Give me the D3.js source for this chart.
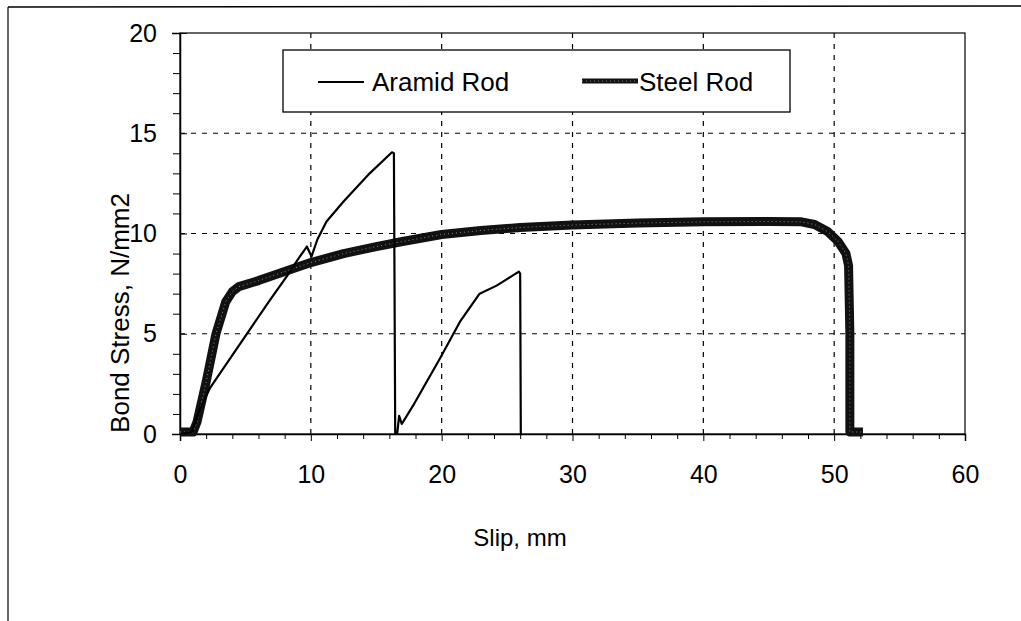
<!DOCTYPE html>
<html><head><meta charset="utf-8">
<script src="https://cdn.jsdelivr.net/npm/d3@7"></script>
<style>
html,body{margin:0;padding:0;background:#fff;}
svg{display:block;font-family:"Liberation Sans",Arial,sans-serif;}
</style></head>
<body><svg id="chart" width="1021" height="621"></svg>
<script>
// ---- data ----
const xTicks = [0, 10, 20, 30, 40, 50, 60];
const yTicks = [0, 5, 10, 15, 20];
const seriesNames = ["Aramid Rod", "Steel Rod"];
const aramidSlip = [0, 0.9, 1.5, 2.3, 4.8, 6.9, 8.2, 9.0, 9.7, 10.05, 10.5, 11.2, 12.5, 14.5, 16.2, 16.35, 16.45, 16.6, 16.75, 16.95, 17.8, 19.9, 21.4, 22.9, 24.2, 25.9, 26.0, 26.05];
const aramidStress = [0, 0.1, 1.2, 2.3, 4.7, 6.7, 7.9, 8.7, 9.35, 8.85, 9.7, 10.6, 11.6, 13.0, 14.05, 14.0, 0.0, 0.0, 0.9, 0.5, 1.4, 3.8, 5.6, 7.0, 7.4, 8.1, 8.0, 0.0];
const steelSlip = [0, 1.0, 1.3, 2.0, 2.75, 3.5, 4.0, 4.5, 6, 8, 10, 12.5, 15, 17, 20, 23, 26, 30, 35, 40, 45, 47.5, 48.5, 49.5, 50.3, 50.9, 51.1, 51.2, 51.2, 52.2];
const steelStress = [0.1, 0.1, 0.6, 2.6, 5.0, 6.6, 7.1, 7.35, 7.65, 8.1, 8.55, 9.0, 9.35, 9.6, 9.95, 10.15, 10.3, 10.42, 10.52, 10.58, 10.6, 10.58, 10.45, 10.1, 9.6, 9.0, 8.4, 5.0, 0.1, 0.1];

// ---- layout ----
const svg = d3.select("#chart");
const L = 180, R = 965, T = 33, B = 434;
const x = d3.scaleLinear().domain([0, 60]).range([L, R]);
const y = d3.scaleLinear().domain([0, 20]).range([B, T]);
const FONT = "Liberation Sans, Arial, sans-serif";

// outer frame (partial, as scanned)
svg.append("line").attr("x1", 8).attr("y1", 7).attr("x2", 1021).attr("y2", 6).attr("stroke", "#000").attr("stroke-width", 1.5);
svg.append("line").attr("x1", 8).attr("y1", 7).attr("x2", 8).attr("y2", 621).attr("stroke", "#000").attr("stroke-width", 1.2);

// gridlines
const g = svg.append("g");
g.selectAll(".hg").data(yTicks.filter(d => d > 0 && d < 20)).join("line")
  .attr("x1", L).attr("x2", R).attr("y1", d => y(d)).attr("y2", d => y(d))
  .attr("stroke", "#000").attr("stroke-width", 1.2).attr("stroke-dasharray", "5,6");
g.selectAll(".vg").data(xTicks.filter(d => d > 0 && d < 60)).join("line")
  .attr("x1", d => x(d)).attr("x2", d => x(d)).attr("y1", T).attr("y2", B)
  .attr("stroke", "#000").attr("stroke-width", 1.2).attr("stroke-dasharray", "5,6");

// plot border
svg.append("rect").attr("x", L).attr("y", T).attr("width", R - L).attr("height", B - T)
  .attr("fill", "none").attr("stroke", "#000").attr("stroke-width", 1.2);

// y axis
const yAxis = svg.append("g").attr("transform", `translate(${L},0)`)
  .call(d3.axisLeft(y).tickValues(yTicks).tickSize(8).tickPadding(15).tickFormat(d3.format("d")));
yAxis.select(".domain").attr("stroke-width", 1.5);
yAxis.selectAll(".tick line").attr("x2", 7);
yAxis.selectAll("text").attr("font-size", 25).attr("font-family", FONT).attr("fill", "#000");
svg.append("g").attr("transform", `translate(${L},0)`)
  .call(d3.axisLeft(y).tickValues(d3.range(0, 21, 1).filter(d => d % 5 !== 0)).tickSize(7).tickFormat(""))
  .select(".domain").remove();

// x axis
const xAxis = svg.append("g").attr("transform", `translate(0,${B})`)
  .call(d3.axisBottom(x).tickValues(xTicks).tickSize(7).tickPadding(24).tickFormat(d3.format("d")));
xAxis.select(".domain").attr("stroke-width", 1.5);
xAxis.selectAll("text").attr("font-size", 25).attr("font-family", FONT).attr("fill", "#000");
svg.append("g").attr("transform", `translate(0,${B})`)
  .call(d3.axisBottom(x).tickValues(d3.range(0, 61, 2).filter(d => d % 10 !== 0)).tickSize(5).tickFormat(""))
  .select(".domain").remove();

// axis titles
svg.append("text").attr("x", 520).attr("y", 546).attr("text-anchor", "middle")
  .attr("font-size", 24).text("Slip, mm");
svg.append("text").attr("transform", `translate(129,313) rotate(-90)`).attr("text-anchor", "middle")
  .attr("font-size", 26).text("Bond Stress, N/mm2");

// series
const line = d3.line().x(d => x(d[0])).y(d => y(d[1]));
const steelData = steelSlip.map((s, i) => [s, steelStress[i]]);
const aramidData = aramidSlip.map((s, i) => [s, aramidStress[i]]);

svg.append("path").datum(steelData).attr("d", line).attr("fill", "none")
  .attr("stroke", "#111").attr("stroke-width", 9).attr("stroke-linejoin", "round");
svg.append("path").datum(steelData).attr("d", line).attr("fill", "none")
  .attr("stroke", "#fff").attr("stroke-opacity", 0.5).attr("stroke-width", 1).attr("stroke-dasharray", "1,3");

svg.append("path").datum(aramidData).attr("d", line).attr("fill", "none")
  .attr("stroke", "#000").attr("stroke-width", 2.2).attr("stroke-linejoin", "round");

// legend
const lg = svg.append("g");
lg.append("rect").attr("x", 283).attr("y", 50).attr("width", 507).attr("height", 62)
  .attr("fill", "#fff").attr("stroke", "#000").attr("stroke-width", 1.3);
lg.append("line").attr("x1", 318).attr("x2", 364).attr("y1", 82).attr("y2", 82).attr("stroke", "#000").attr("stroke-width", 2.2);
lg.append("text").attr("x", 372).attr("y", 91).attr("font-size", 26).text(seriesNames[0]);
lg.append("line").attr("x1", 582).attr("x2", 638).attr("y1", 81).attr("y2", 81).attr("stroke", "#111").attr("stroke-width", 5);
lg.append("line").attr("x1", 582).attr("x2", 638).attr("y1", 81).attr("y2", 81).attr("stroke", "#fff").attr("stroke-opacity", 0.5).attr("stroke-width", 1).attr("stroke-dasharray", "1,3");
lg.append("text").attr("x", 639).attr("y", 91).attr("font-size", 26).text(seriesNames[1]);
</script></body></html>
